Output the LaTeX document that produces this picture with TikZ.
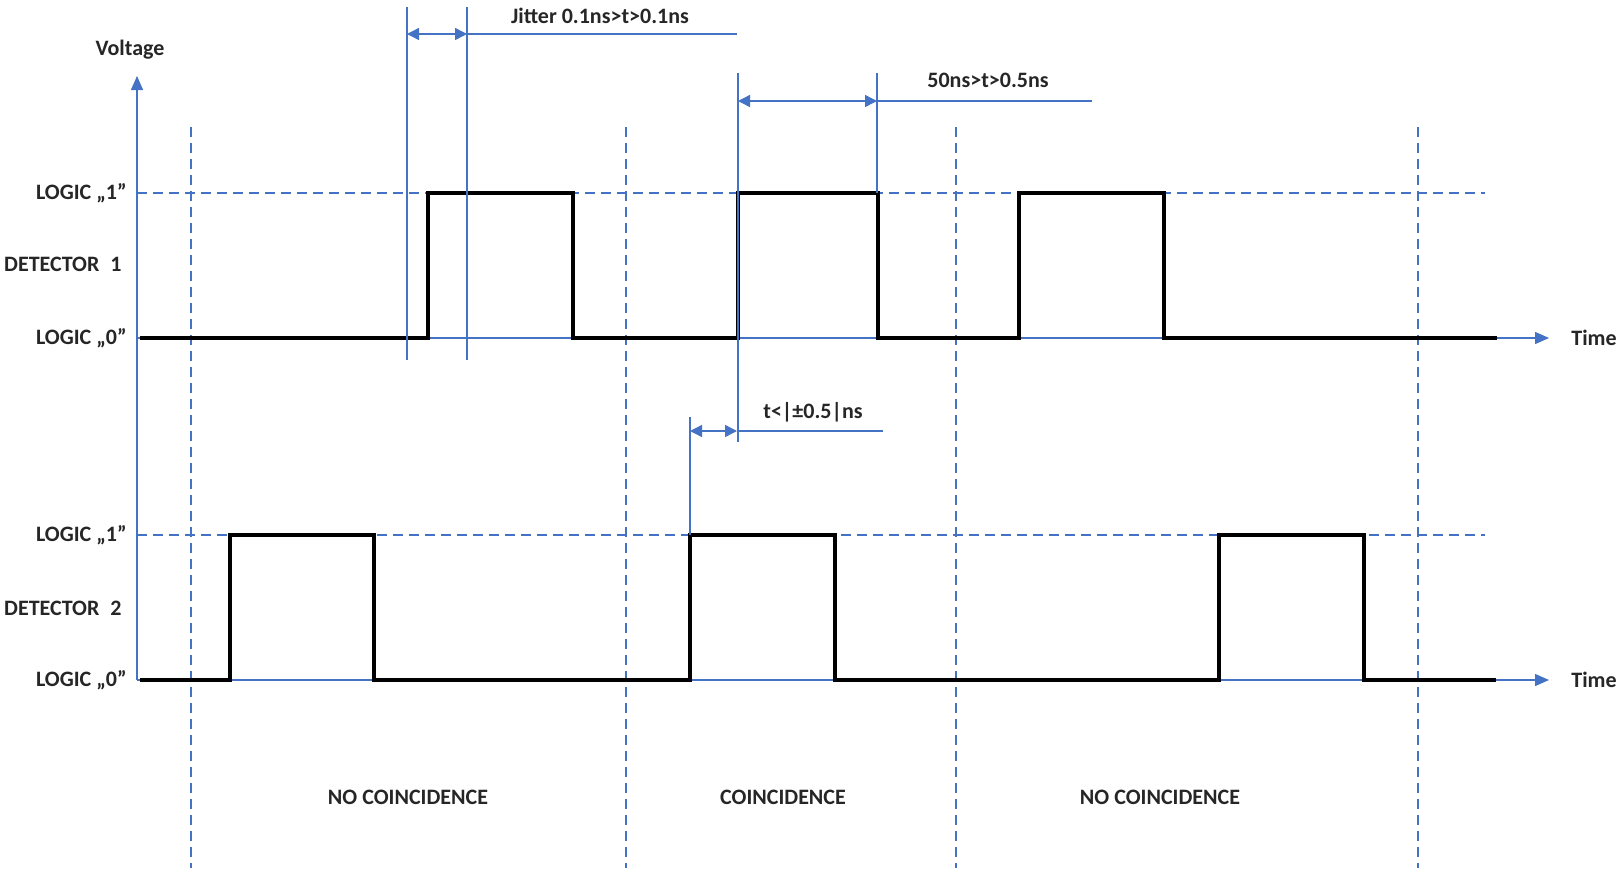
\documentclass[tikz,border=0pt]{standalone}
\usepackage{fontspec}
\setmainfont{Carlito}
\usepackage{xcolor}
\usetikzlibrary{arrows.meta}
\usetikzlibrary{positioning}
\definecolor{lineblue}{RGB}{68,114,196}

\begin{document}
\begin{tikzpicture}
          [x=0.5pt, y=-0.5pt,
           every node/.style={font=\fontsize{11}{13}\selectfont\bfseries, text=black!85, inner sep=0pt},
           guide/.style={lineblue, line width=0.7pt},
           levelline/.style={lineblue, line width=0.7pt, dash pattern=on 5pt off 3pt},
           axis/.style={guide, -{Triangle[length=7pt,width=6pt]}},
           dim/.style={guide, {Triangle[length=6pt,width=6pt]}-{Triangle[length=6pt,width=6pt]}},
           signal/.style={black, line width=2.4pt}]
          \useasboundingbox (0,0) rectangle (1623,868);

          % axes
          \coordinate (origin) at (137,680);
          \coordinate (vtip) at (137,76);
          \coordinate (t1start) at (137,338);
          \coordinate (t1tip) at (1549,338);
          \coordinate (t2tip) at (1549,680);
          \draw[axis] (origin) -- (vtip);
          \draw[axis] (t1start) -- (t1tip);
          \draw[axis] (origin) -- (t2tip);
          \node (volt) at (130,50) {Voltage};
          \node (time1) [right=11pt of t1tip, anchor=west] {Time};
          \node (time2) [right=11pt of t2tip, anchor=west] {Time};

          % logic levels
          \draw[levelline] (137,193) -- (1485,193);
          \draw[levelline] (137,535) -- (1485,535);
          \foreach \x in {191,626,956,1418}
            \draw[levelline] (\x,127) -- (\x,868);

          \node (d1high) [anchor=east] at (127,193) {LOGIC „1”};
          \node (d1name) [anchor=east] at (122,264) {DETECTOR\enspace 1};
          \node (d1low) [anchor=east] at (127,338) {LOGIC „0”};
          \node (d2high) [anchor=east] at (127,535) {LOGIC „1”};
          \node (d2name) [anchor=east] at (122,608) {DETECTOR\enspace 2};
          \node (d2low) [anchor=east] at (127,680) {LOGIC „0”};

          % signals
          \draw[signal] (140,338) -| (428,193) -| (573,338) -| (738,193) -| (878,338)
                -| (1019,193) -| (1164,338) -- (1497,338);
          \draw[signal] (140,680) -| (230,535) -| (374,680) -| (690,535) -| (835,680)
                -| (1219,535) -| (1364,680) -- (1496,680);

          % jitter
          \coordinate (ja) at (407,34);
          \coordinate (jb) at (467,34);
          \coordinate (jend) at (737,34);
          \draw[guide] (407,7) -- (407,360);
          \draw[guide] (467,7) -- (467,360);
          \draw[dim] (ja) -- (jb);
          \draw[guide] (jb) -- (jend);
          \node (jitter) at (600,16) {Jitter 0.1ns>t>0.1ns};

          % pulse width
          \coordinate (wa) at (738,101);
          \coordinate (wb) at (877,101);
          \coordinate (wend) at (1092,101);
          \draw[guide] (738,73) -- (738,442);
          \draw[guide] (877,73) -- (877,193);
          \draw[dim] (wa) -- (wb);
          \draw[guide] (wb) -- (wend);
          \node (width) at (988,80) {50ns>t>0.5ns};

          % delay
          \coordinate (da) at (690,431);
          \coordinate (db) at (737,431);
          \coordinate (dend) at (883,431);
          \draw[guide] (690,417) -- (690,535);
          \draw[dim] (da) -- (db);
          \draw[guide] (db) -- (dend);
          \node (delay) at (813,412) {t<|±0.5|ns};

          % windows
          \node (win1) at (408,797) {NO COINCIDENCE};
          \node (win2) at (783,797) {COINCIDENCE};
          \node (win3) at (1160,797) {NO COINCIDENCE};
        \end{tikzpicture}
\end{document}
